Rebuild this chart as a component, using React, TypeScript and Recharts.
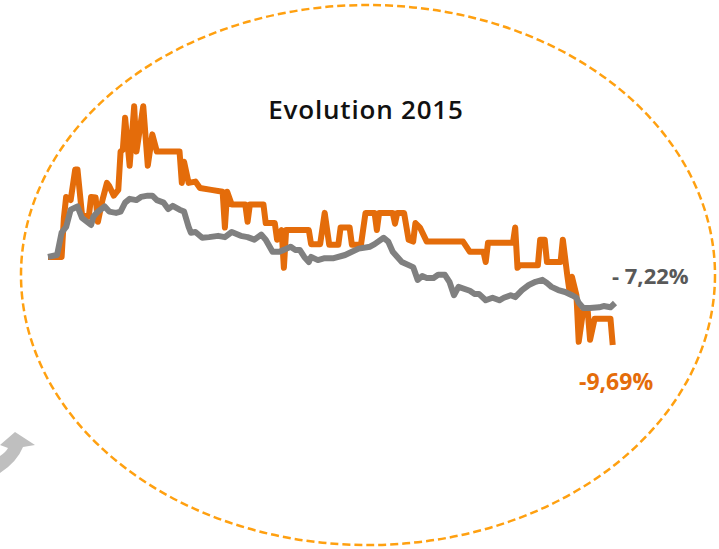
import { LineChart, Line, XAxis, YAxis } from 'recharts';

// trading day index and performance in % (base 0 at start of 2015)
const fundDays = [0, 6, 7, 8, 10, 12, 13, 15, 18, 19, 21, 22, 24, 26, 27, 29, 31, 32, 33, 34, 36, 38, 39, 42, 44, 46, 48, 58, 59, 60, 62, 65, 67, 72, 77, 78, 79, 81, 87, 88, 89, 95, 96, 100, 101, 103, 104, 105, 115, 116, 120, 122, 124, 128, 129, 133, 134, 138, 140, 144, 145, 146, 152, 153, 154, 157, 159, 161, 162, 164, 167, 183, 186, 192, 193, 194, 205, 206, 207, 208, 216, 217, 219, 220, 226, 227, 229, 230, 231, 233, 234, 236, 238, 239, 241, 248, 249];
const fundValues = [0, 0, 6.1, 9.4, 8.9, 13.7, 13.7, 6.6, 6.3, 9.4, 9.3, 5.5, 8.9, 11.6, 11.1, 9.6, 10.5, 16.5, 16.8, 21.8, 14.3, 23.6, 16.5, 23.6, 14.3, 19.2, 16.5, 16.5, 11.6, 14.9, 11.6, 11.8, 10.8, 10.5, 10.2, 4.6, 10.2, 8.2, 8.2, 5.5, 8.2, 8.2, 5.3, 5.3, 2.7, 4.2, -1.7, 4.2, 4.2, 2.0, 2.0, 6.9, 1.9, 1.9, 4.6, 4.6, 1.9, 1.9, 6.9, 6.9, 4.2, 6.9, 6.9, 5.2, 6.9, 6.9, 2.7, 2.4, 5.3, 4.6, 2.4, 2.4, 0.8, 0.8, -0.8, 2.2, 2.2, 4.6, -1.7, -1.3, -1.3, 2.7, 2.7, -0.8, -0.8, 2.7, -3.0, -5.5, -3.1, -6.0, -13.3, -8.3, -8.6, -13.0, -9.7, -9.7, -13.8];

const indexDays = [0, 4, 6, 8, 10, 13, 15, 19, 20, 22, 25, 27, 30, 32, 34, 36, 39, 41, 44, 46, 48, 51, 53, 55, 58, 60, 62, 63, 65, 68, 71, 75, 78, 81, 85, 88, 91, 94, 96, 99, 102, 104, 107, 109, 111, 113, 115, 116, 119, 122, 126, 131, 134, 137, 142, 144, 148, 150, 152, 156, 161, 163, 165, 167, 170, 172, 175, 177, 179, 181, 186, 188, 190, 193, 196, 199, 201, 204, 206, 209, 212, 215, 218, 220, 222, 225, 228, 231, 233, 234, 236, 239, 243, 245, 248, 250];
const indexValues = [0, 0.3, 3.8, 4.7, 7.4, 7.9, 6.1, 5.0, 6.3, 7.1, 7.9, 7.1, 6.9, 7.1, 8.5, 9.1, 8.9, 9.4, 9.6, 9.6, 8.9, 8.5, 7.5, 8.0, 7.4, 7.1, 4.7, 3.8, 3.9, 3.0, 3.1, 3.3, 3.1, 3.9, 3.3, 3.1, 2.7, 3.5, 2.7, 0.8, 0.8, 1.1, 1.6, 1.1, 1.1, 0.0, -0.8, 0.0, -0.5, -0.2, -0.2, 0.3, 0.8, 1.3, 1.6, 2.0, 3.0, 2.4, 0.8, -0.8, -1.6, -3.6, -3.0, -3.3, -3.3, -2.8, -2.8, -3.9, -6.0, -4.7, -5.3, -5.8, -5.8, -6.8, -6.4, -6.8, -6.4, -6.0, -6.3, -5.2, -4.4, -3.9, -3.6, -4.1, -4.7, -5.2, -5.5, -6.0, -6.4, -7.2, -8.0, -8.0, -7.9, -7.7, -7.9, -7.22];

const title = 'Evolution 2015';
const indexLabel = '- 7,22%';
const fundLabel = '-9,69%';

const fundData = fundDays.map((d, i) => ({ d, v: fundValues[i] }));
const indexData = indexDays.map((d, i) => ({ d, v: indexValues[i] }));

export default function App() {
  return (
    <div style={{ position: 'absolute', left: 0, top: 0, background: '#fff' }}>
      <LineChart
        width={719}
        height={549}
        margin={{ top: 91, right: 104, bottom: 190, left: 48 }}
      >
        <ellipse
          cx={368}
          cy={275}
          rx={347}
          ry={270}
          fill="none"
          stroke="#FFA010"
          strokeWidth={2.5}
          strokeDasharray="8 4"
        />
        <path
          d="M15,432 L35,445 L23,447 Q17,462 0,473 L0,456 Q6,452 8,448 L0,445 Z"
          fill="#BFBFBF"
        />
        <XAxis type="number" dataKey="d" domain={[0, 250]} hide />
        <YAxis type="number" domain={[-16, 26]} hide />
        <Line
          data={fundData}
          dataKey="v"
          stroke="#E46C0A"
          strokeWidth={6}
          dot={false}
          strokeLinejoin="round"
          isAnimationActive={false}
        />
        <Line
          data={indexData}
          dataKey="v"
          stroke="#808080"
          strokeWidth={6}
          dot={false}
          strokeLinejoin="round"
          isAnimationActive={false}
        />
        <text
          x={366}
          y={119}
          textAnchor="middle"
          fontFamily="'Open Sans', sans-serif"
          fontWeight={600}
          fontSize={26}
          letterSpacing={0.8}
          fill="#111"
        >
          {title}
        </text>
        <text
          x={612}
          y={284}
          fontFamily="'Open Sans', sans-serif"
          fontWeight={700}
          fontSize={22}
          fill="#595959"
        >
          {indexLabel}
        </text>
        <text
          x={579}
          y={390}
          fontFamily="'Open Sans', sans-serif"
          fontWeight={700}
          fontSize={23}
          fill="#E46C0A"
        >
          {fundLabel}
        </text>
      </LineChart>
    </div>
  );
}
